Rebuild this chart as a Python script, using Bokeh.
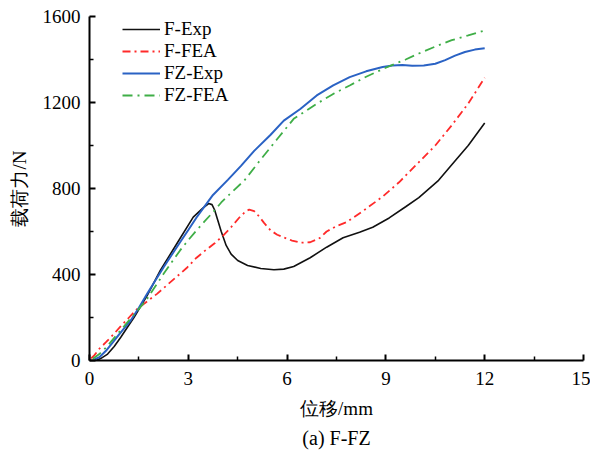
from bokeh.plotting import figure
from bokeh.models import Legend, LegendItem, Title, Range1d, FixedTicker
from bokeh.embed import file_html
from bokeh.resources import INLINE

# ---- data ----
fexp_x = [0.2, 0.35, 0.55, 0.75, 0.95, 1.35, 1.75, 2.15, 2.65, 3.15, 3.45, 3.62, 3.72, 3.8, 3.9, 4.0, 4.15, 4.3, 4.5, 4.8, 5.2, 5.6, 5.9, 6.2, 6.7, 7.2, 7.7, 8.2, 8.6, 9.1, 9.6, 10.0, 10.6, 11.0, 11.5, 12.0]
fexp_y = [0, 10, 30, 65, 108, 200, 302, 419, 543, 667, 710, 730, 725, 700, 650, 600, 535, 495, 465, 442, 428, 422, 425, 437, 478, 527, 571, 597, 620, 663, 715, 758, 838, 910, 1000, 1105]

ffea_x = [0.05, 0.15, 0.3, 0.5, 0.75, 0.95, 1.2, 1.45, 1.75, 2.05, 2.35, 2.65, 2.95, 3.25, 3.5, 3.8, 4.05, 4.3, 4.55, 4.75, 4.85, 5.0, 5.15, 5.3, 5.5, 5.7, 5.9, 6.15, 6.4, 6.7, 7.0, 7.2, 7.5, 7.8, 8.3, 8.9, 9.4, 9.85, 10.5, 11.0, 11.5, 12.0]
ffea_y = [10, 25, 55, 85, 125, 160, 200, 240, 275, 310, 350, 390, 430, 478, 510, 545, 580, 620, 665, 695, 702, 695, 670, 640, 605, 585, 572, 558, 548, 550, 570, 600, 625, 643, 695, 762, 829, 899, 1000, 1094, 1195, 1315]

fzexp_x = [0.15, 0.3, 0.5, 0.75, 1.0, 1.25, 1.5, 1.75, 2.0, 2.25, 2.5, 2.75, 3.0, 3.25, 3.5, 3.75, 4.2, 4.6, 5.0, 5.5, 5.9, 6.4, 6.9, 7.4, 7.9, 8.4, 8.9, 9.2, 9.5, 9.8, 10.15, 10.5, 10.8, 11.1, 11.4, 11.7, 12.0]
fzexp_y = [5, 15, 45, 93, 140, 186, 245, 310, 372, 434, 492, 550, 607, 665, 718, 770, 840, 905, 975, 1050, 1116, 1170, 1233, 1280, 1318, 1345, 1365, 1372, 1374, 1371, 1372, 1380, 1397, 1418, 1435, 1446, 1452]

fzfea_x = [0.1, 0.3, 0.5, 0.75, 1.0, 1.3, 1.5, 1.75, 2.0, 2.25, 2.5, 2.75, 3.0, 3.25, 3.5, 3.75, 4.0, 4.3, 4.7, 5.2, 5.7, 6.2, 6.9, 7.4, 7.9, 8.4, 8.9, 9.2, 9.6, 10.0, 10.5, 11.0, 11.5, 12.0]
fzfea_y = [8, 30, 60, 105, 150, 205, 240, 287, 345, 403, 458, 512, 560, 605, 648, 690, 735, 780, 837, 935, 1030, 1124, 1194, 1240, 1279, 1320, 1355, 1375, 1400, 1428, 1460, 1490, 1512, 1535]

x_ticks = [0, 3, 6, 9, 12, 15]
y_ticks = [0, 400, 800, 1200, 1600]
series_names = ["F-Exp", "F-FEA", "FZ-Exp", "FZ-FEA"]
x_label = "位移/mm"
y_label = "载荷力/N"
caption = "(a) F-FZ"

SERIF = "Liberation Serif"

p = figure(width=590, height=452, output_backend="svg", toolbar_location=None,
           x_range=Range1d(0, 15), y_range=Range1d(0, 1600),
           min_border_left=89, min_border_right=7, min_border_top=16, min_border_bottom=92)
p.outline_line_color = None
p.grid.visible = False
p.background_fill_color = "white"
p.border_fill_color = "white"

r1 = p.line(fexp_x, fexp_y, line_color="#111111", line_width=1.6)
r2 = p.line(ffea_x, ffea_y, line_color="#ff2a2a", line_width=1.8, line_dash="8 4 2 4")
r3 = p.line(fzexp_x, fzexp_y, line_color="#2a62c4", line_width=2.0)
r4 = p.line(fzfea_x, fzfea_y, line_color="#3fae47", line_width=1.8, line_dash="10 5 2 5")

for ax in (p.xaxis[0], p.yaxis[0]):
    ax.axis_line_width = 2
    ax.axis_line_color = "black"
    ax.major_tick_line_width = 2
    ax.minor_tick_line_width = 1.5
    ax.major_tick_in = 6
    ax.major_tick_out = 0
    ax.minor_tick_in = 4
    ax.minor_tick_out = 0
    ax.major_label_text_font = SERIF
    ax.major_label_text_font_size = "19px"
    ax.major_label_text_color = "black"
    ax.axis_label_text_font = SERIF
    ax.axis_label_text_font_size = "19px"
    ax.axis_label_text_font_style = "normal"
    ax.axis_label_text_color = "black"

p.xaxis[0].ticker = FixedTicker(ticks=x_ticks, minor_ticks=[1.5, 4.5, 7.5, 10.5, 13.5])
p.yaxis[0].ticker = FixedTicker(ticks=y_ticks, minor_ticks=[200, 600, 1000, 1400])
p.xaxis[0].axis_label = x_label
p.yaxis[0].axis_label = y_label
p.xaxis[0].major_label_standoff = 11
p.yaxis[0].major_label_standoff = 9
p.xaxis[0].axis_label_standoff = 10
p.yaxis[0].axis_label_standoff = 10

legend = Legend(items=[LegendItem(label=n, renderers=[r]) for n, r in zip(series_names, [r1, r2, r3, r4])],
                location=(33, 254), orientation="vertical")
legend.label_text_font = SERIF
legend.label_text_font_size = "19px"
legend.label_text_color = "black"
legend.glyph_width = 38
legend.glyph_height = 20
legend.label_height = 20
legend.spacing = -1
legend.label_standoff = 4
legend.padding = 0
legend.margin = 0
legend.border_line_color = None
legend.background_fill_alpha = 0
p.add_layout(legend)

cap = Title(text=caption, align="center", text_font=SERIF, text_font_size="20px",
            text_font_style="normal", text_color="black", standoff=6)
p.add_layout(cap, "below")

open("out.html", "w").write(file_html(p, INLINE))
